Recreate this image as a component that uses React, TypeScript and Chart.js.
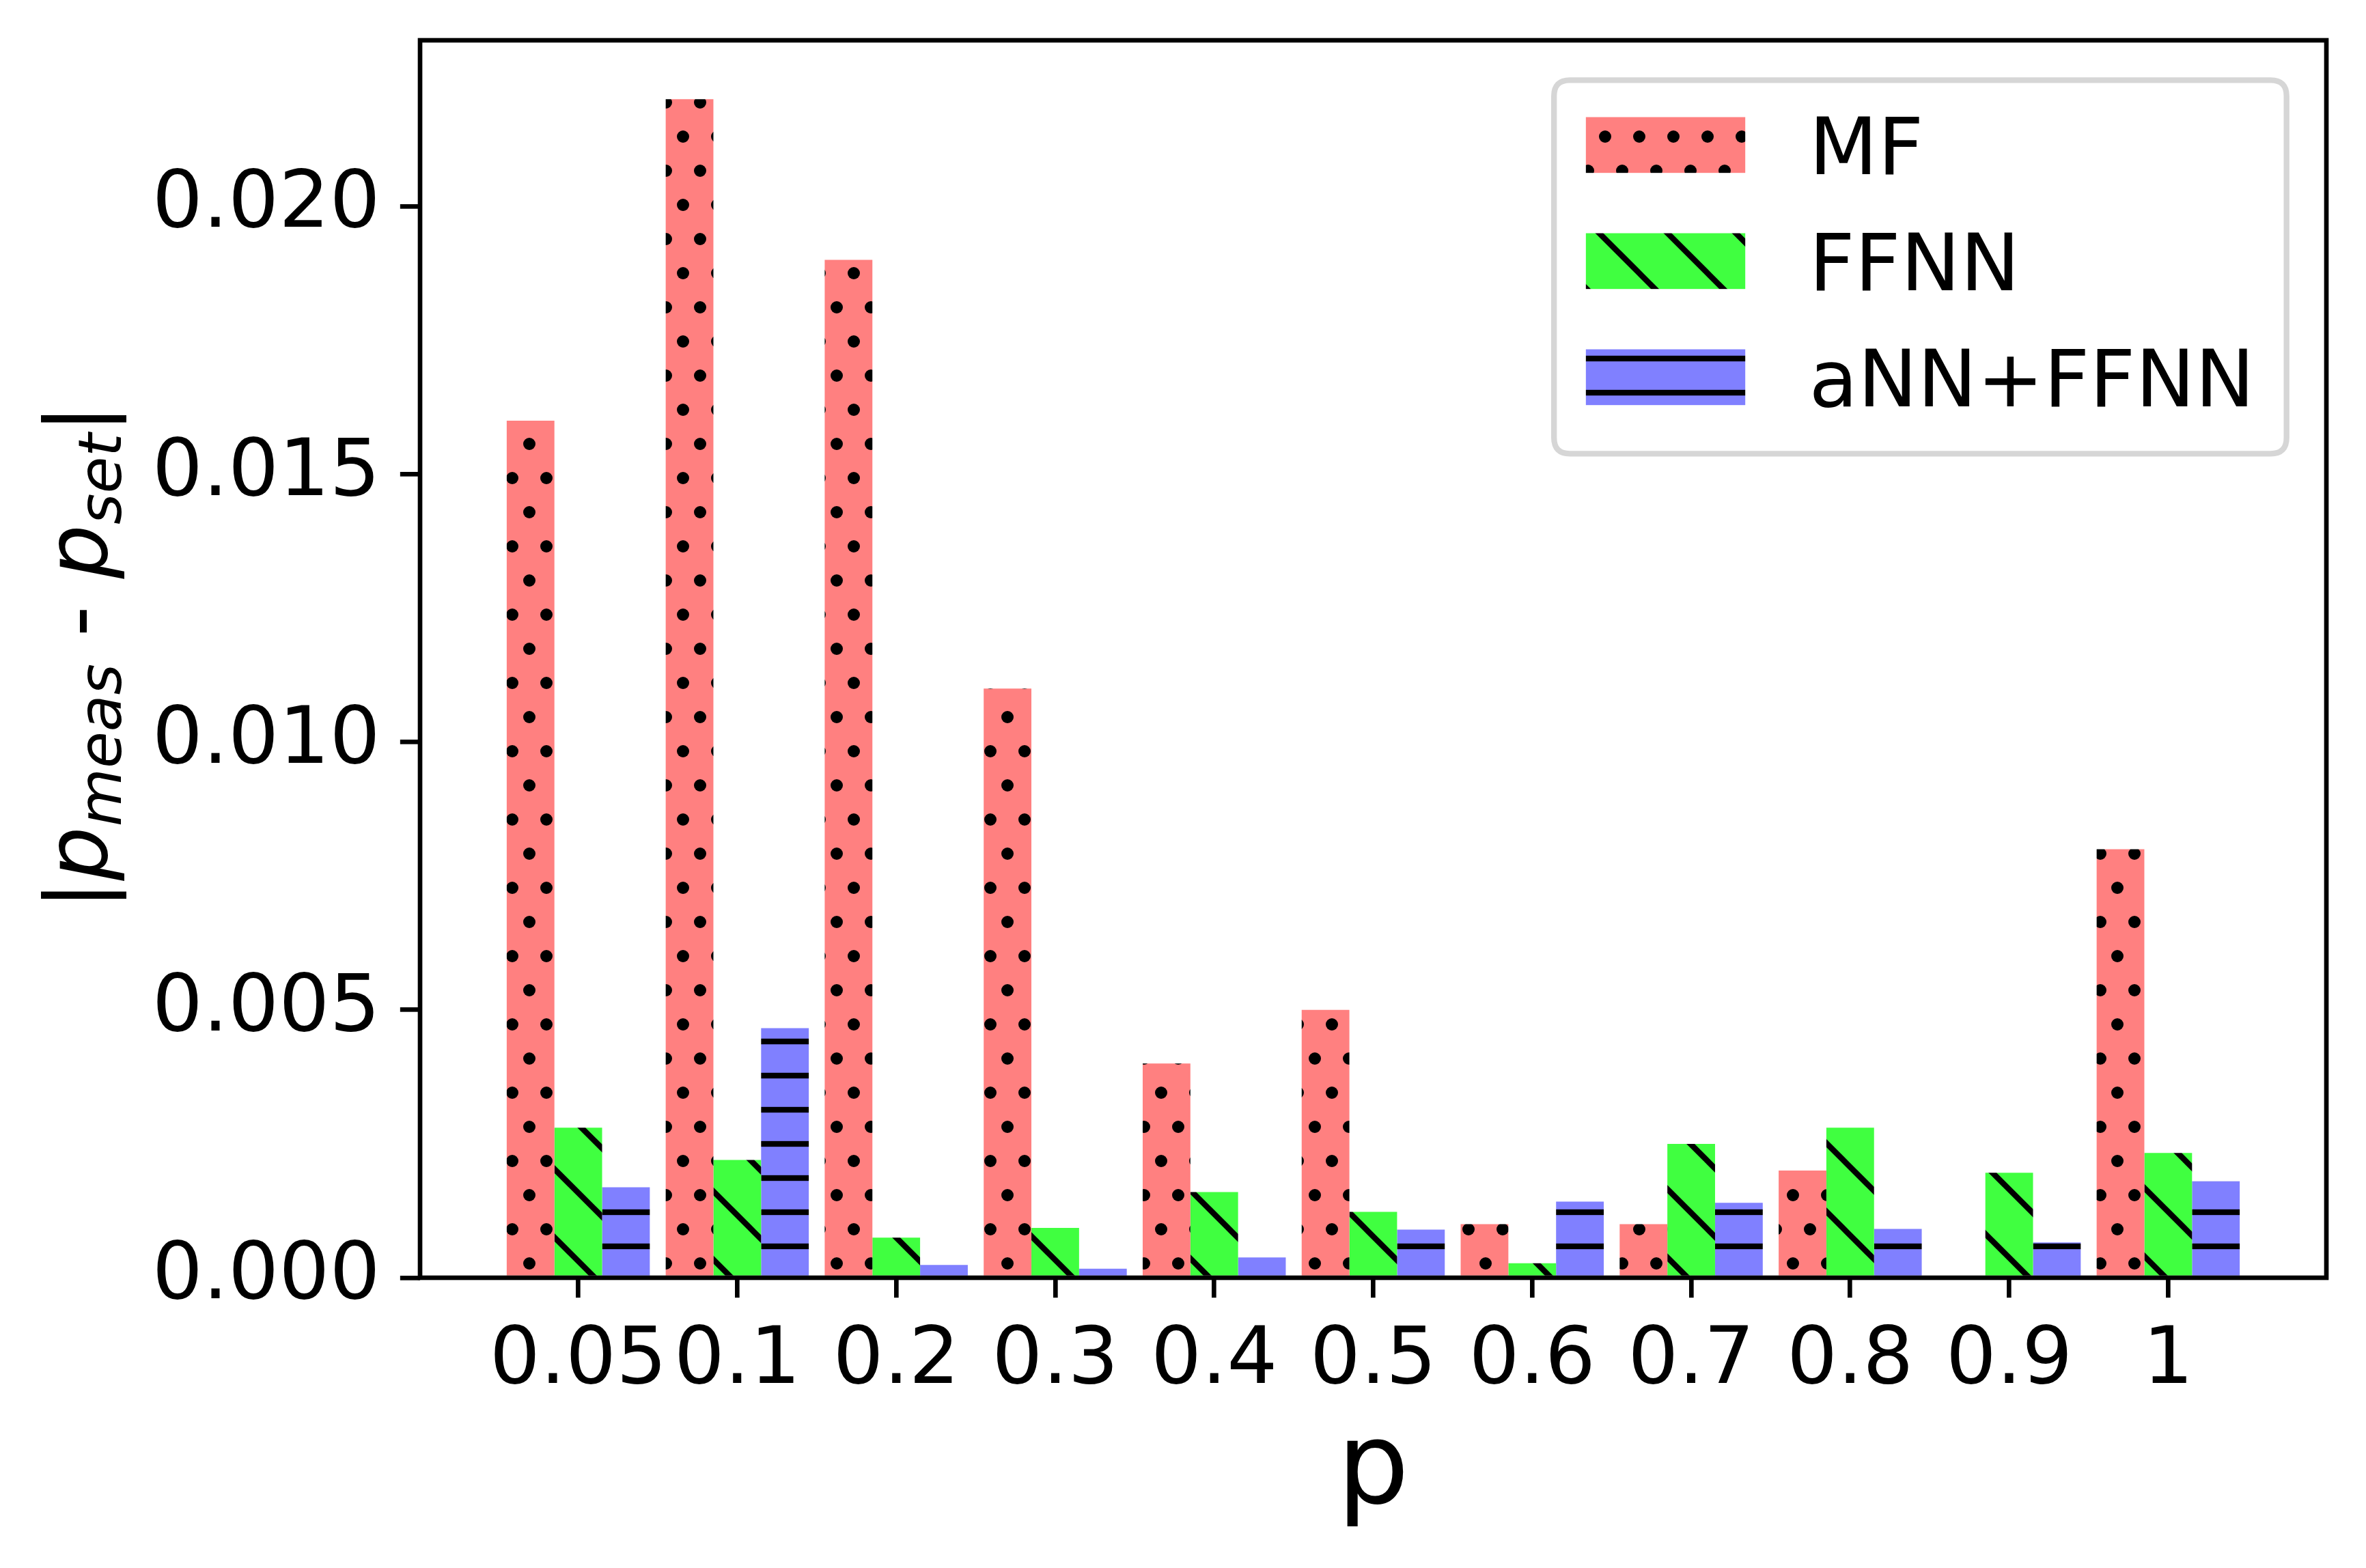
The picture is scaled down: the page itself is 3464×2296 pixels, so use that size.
import React, { useEffect, useRef } from 'react';
import { Chart, registerables } from 'chart.js';

Chart.register(...registerables);

// ---- data ----
const pLabels = ['0.05', '0.1', '0.2', '0.3', '0.4', '0.5', '0.6', '0.7', '0.8', '0.9', '1'];
const mfValues = [0.016, 0.022, 0.019, 0.011, 0.004, 0.005, 0.001, 0.001, 0.002, 0, 0.008];
const ffnnValues = [0.0028, 0.0022, 0.00075, 0.00093, 0.0016, 0.00123, 0.00027, 0.0025, 0.0028, 0.00196, 0.00233];
const annValues = [0.00169, 0.00466, 0.00024, 0.00017, 0.00038, 0.0009, 0.00142, 0.0014, 0.00091, 0.00066, 0.0018];
const seriesNames = ['MF', 'FFNN', 'aNN+FFNN'];
const seriesColors = ['#ff8080', '#40ff40', '#8080ff'];
const yTicks = [0, 0.005, 0.01, 0.015, 0.02];
const yMax = 0.0231;
const xLabelText = 'p';

// ---- layout constants ----
const W = 3464;
const H = 2296;
const PT = 600 / 72;
const FONT = '"DejaVu Sans"';
const TICK_SIZE = 14 * PT;
const HATCH_LW = 1 * PT;

function tile(w: number, h: number, color: string, draw: (c: CanvasRenderingContext2D) => void) {
  const cv = document.createElement('canvas');
  cv.width = w;
  cv.height = h;
  const c = cv.getContext('2d')!;
  c.fillStyle = color;
  c.fillRect(0, 0, w, h);
  c.fillStyle = '#000';
  c.strokeStyle = '#000';
  draw(c);
  return cv;
}

function makePatterns(ctx: CanvasRenderingContext2D) {
  const dots = tile(50, 100, seriesColors[0], (c) => {
    const r = 9;
    const pts = [[0, 0], [50, 0], [0, 100], [50, 100], [25, 50]];
    for (const [x, y] of pts) {
      c.beginPath();
      c.arc(x, y, r, 0, Math.PI * 2);
      c.fill();
    }
  });
  const diag = tile(100, 100, seriesColors[1], (c) => {
    c.lineWidth = HATCH_LW;
    c.lineCap = 'butt';
    for (const off of [-100, 0, 100]) {
      c.beginPath();
      c.moveTo(-20 + off, -20);
      c.lineTo(120 + off, 120);
      c.stroke();
    }
  });
  const horiz = tile(50, 50, seriesColors[2], (c) => {
    c.fillRect(0, 25 - HATCH_LW / 2, 50, HATCH_LW);
  });
  return [
    ctx.createPattern(dots, 'repeat')!,
    ctx.createPattern(diag, 'repeat')!,
    ctx.createPattern(horiz, 'repeat')!,
  ];
}

const framePlugin = {
  id: 'frame',
  afterDatasetsDraw(chart: any) {
    const { ctx, chartArea: a } = chart;
    ctx.save();
    ctx.strokeStyle = '#000';
    ctx.lineWidth = 0.8 * PT;
    ctx.strokeRect(a.left, a.top, a.right - a.left, a.bottom - a.top);
    ctx.restore();
  },
};

const textPlugin = {
  id: 'axisTexts',
  afterDraw(chart: any) {
    const { ctx, chartArea: a } = chart;
    ctx.save();
    ctx.fillStyle = '#000';
    // x label
    ctx.font = `${20 * PT}px ${FONT}`;
    ctx.textAlign = 'center';
    ctx.textBaseline = 'alphabetic';
    ctx.fillText(xLabelText, (a.left + a.right) / 2, a.bottom + 329);
    // y label |p_meas - p_set|
    const main = 15 * PT;
    const sub = main * 0.7;
    const segs = [
      { t: '|', f: `${main}px ${FONT}`, dy: 0 },
      { t: 'p', f: `italic ${main}px ${FONT}`, dy: 0 },
      { t: 'meas', f: `italic ${sub}px ${FONT}`, dy: 21 },
      { t: ' - ', f: `${main}px ${FONT}`, dy: 0 },
      { t: 'p', f: `italic ${main}px ${FONT}`, dy: 0 },
      { t: 'set', f: `italic ${sub}px ${FONT}`, dy: 21 },
      { t: '|', f: `${main}px ${FONT}`, dy: 0 },
    ];
    ctx.translate(a.left - 459, (a.top + a.bottom) / 2 - 3);
    ctx.rotate(-Math.PI / 2);
    ctx.textAlign = 'left';
    let total = 0;
    const widths: number[] = [];
    for (const s of segs) {
      ctx.font = s.f;
      const w = ctx.measureText(s.t).width;
      widths.push(w);
      total += w;
    }
    let x = -total / 2;
    segs.forEach((s, i) => {
      ctx.font = s.f;
      ctx.fillText(s.t, x, s.dy);
      x += widths[i];
    });
    ctx.restore();
  },
};

const legendPlugin = {
  id: 'customLegend',
  afterDraw(chart: any) {
    const { ctx, chartArea: a } = chart;
    const fs = TICK_SIZE;
    const ds = chart.data.datasets;
    ctx.save();
    ctx.font = `${fs}px ${FONT}`;
    let maxW = 0;
    for (const d of ds) maxW = Math.max(maxW, ctx.measureText(d.label).width);
    const pad = 0.4 * fs;
    const handleLen = 2.0 * fs;
    const handleH = 0.7 * fs;
    const textPad = 0.8 * fs;
    const right = a.right - 0.5 * fs;
    const top = a.top + 0.5 * fs;
    const width = pad + handleLen + textPad + maxW + pad;
    const left = right - width;
    const pitch = 170;
    const height = 547;
    const r = 0.2 * fs;
    // frame
    ctx.beginPath();
    ctx.moveTo(left + r, top);
    ctx.lineTo(right - r, top);
    ctx.quadraticCurveTo(right, top, right, top + r);
    ctx.lineTo(right, top + height - r);
    ctx.quadraticCurveTo(right, top + height, right - r, top + height);
    ctx.lineTo(left + r, top + height);
    ctx.quadraticCurveTo(left, top + height, left, top + height - r);
    ctx.lineTo(left, top + r);
    ctx.quadraticCurveTo(left, top, left + r, top);
    ctx.closePath();
    ctx.fillStyle = 'rgba(255,255,255,0.8)';
    ctx.fill();
    ctx.strokeStyle = '#d6d6d6';
    ctx.lineWidth = 1 * PT;
    ctx.stroke();
    ds.forEach((d: any, i: number) => {
      const cy = top + 95 + i * pitch;
      const hx = left + pad;
      ctx.fillStyle = d.backgroundColor;
      ctx.fillRect(hx, cy - handleH / 2, handleLen, handleH);
      ctx.fillStyle = '#000';
      ctx.textAlign = 'left';
      ctx.textBaseline = 'alphabetic';
      ctx.fillText(d.label, hx + handleLen + textPad, cy + 0.364 * fs);
    });
    ctx.restore();
  },
};

export default function App() {
  const ref = useRef<HTMLCanvasElement>(null);
  useEffect(() => {
    const canvas = ref.current!;
    const ctx = canvas.getContext('2d')!;
    const patterns = makePatterns(ctx);
    const series = [mfValues, ffnnValues, annValues];
    const chart = new Chart(canvas, {
      type: 'bar',
      data: {
        datasets: series.map((vals, k) => ({
          label: seriesNames[k],
          data: vals.map((v, i) => ({ x: i, y: v })),
          backgroundColor: patterns[k] as any,
          borderWidth: 0,
          barPercentage: 1,
          categoryPercentage: 0.9,
        })),
      },
      options: {
        animation: false,
        responsive: false,
        devicePixelRatio: 1,
        layout: { padding: { top: 59, right: 58, left: 0, bottom: 0 } },
        plugins: { legend: { display: false }, tooltip: { enabled: false } },
        scales: {
          x: {
            type: 'linear',
            min: -0.995,
            max: 10.995,
            offset: false,
            grid: {
              display: true,
              offset: false,
              drawOnChartArea: false,
              drawTicks: true,
              tickLength: 3.5 * PT,
              lineWidth: 0.8 * PT,
              tickWidth: 0.8 * PT,
              color: '#000',
              tickColor: '#000',
            },
            border: { display: false },
            afterBuildTicks: (scale: any) => {
              scale.ticks = pLabels.map((_, i) => ({ value: i }));
            },
            afterFit: (scale: any) => {
              scale.height = 425;
              scale.paddingLeft = 0;
              scale.paddingRight = 0;
            },
            ticks: {
              autoSkip: false,
              maxRotation: 0,
              minRotation: 0,
              padding: 25,
              color: '#000',
              font: { family: 'DejaVu Sans', size: TICK_SIZE },
              callback: (v: any) => pLabels[Math.round(Number(v))] ?? '',
            },
          },
          y: {
            type: 'linear',
            min: 0,
            max: yMax,
            grid: {
              display: true,
              drawOnChartArea: false,
              drawTicks: true,
              tickLength: 3.5 * PT,
              lineWidth: 0.8 * PT,
              tickWidth: 0.8 * PT,
              color: '#000',
              tickColor: '#000',
            },
            border: { display: false },
            afterBuildTicks: (scale: any) => {
              scale.ticks = yTicks.map((v) => ({ value: v }));
            },
            afterFit: (scale: any) => {
              scale.width = 615;
              scale.paddingTop = 0;
              scale.paddingBottom = 0;
            },
            ticks: {
              padding: 3.5 * PT,
              color: '#000',
              font: { family: 'DejaVu Sans', size: TICK_SIZE },
              callback: (v: any) => Number(v).toFixed(3),
            },
          },
        },
      },
      plugins: [framePlugin, textPlugin, legendPlugin],
    } as any);
    return () => chart.destroy();
  }, []);
  return (
    <div style={{ position: 'fixed', left: 0, top: 0, width: W, height: H, background: '#fff' }}>
      <canvas ref={ref} width={W} height={H} style={{ display: 'block', width: W, height: H }} />
    </div>
  );
}
